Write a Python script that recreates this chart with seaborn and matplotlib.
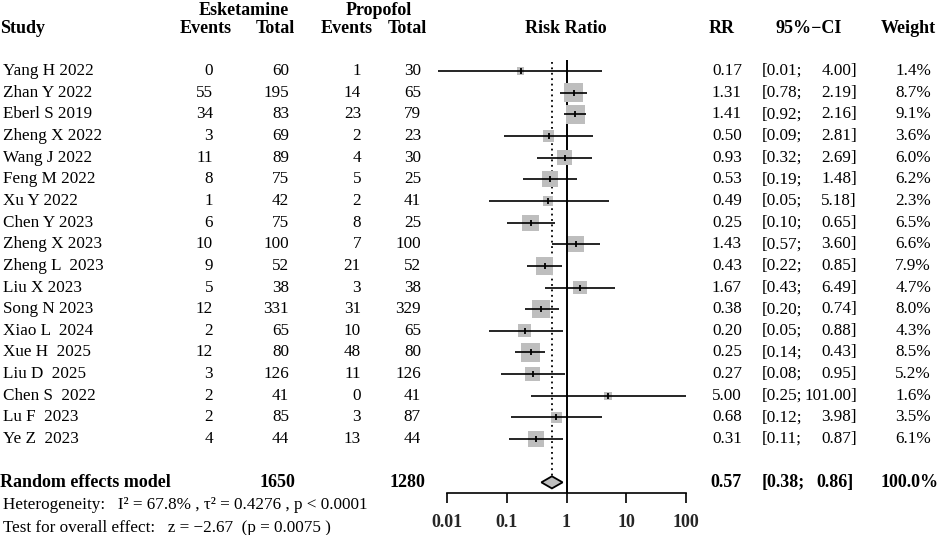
import numpy as np
import matplotlib
matplotlib.use("Agg")
import matplotlib.pyplot as plt
import matplotlib.transforms as mtransforms
import seaborn as sns

# ---- data ----
studies = ["Yang H 2022", "Zhan Y 2022", "Eberl S 2019", "Zheng X 2022", "Wang J 2022",
           "Feng M 2022", "Xu Y 2022", "Chen Y 2023", "Zheng X 2023", "Zheng L  2023",
           "Liu X 2023", "Song N 2023", "Xiao L  2024", "Xue H  2025", "Liu D  2025",
           "Chen S  2022", "Lu F  2023", "Ye Z  2023"]
esk_events = [0, 55, 34, 3, 11, 8, 1, 6, 10, 9, 5, 12, 2, 12, 3, 2, 2, 4]
esk_total = [60, 195, 83, 69, 89, 75, 42, 75, 100, 52, 38, 331, 65, 80, 126, 41, 85, 44]
pro_events = [1, 14, 23, 2, 4, 5, 2, 8, 7, 21, 3, 31, 10, 48, 11, 0, 3, 13]
pro_total = [30, 65, 79, 23, 30, 25, 41, 25, 100, 52, 38, 329, 65, 80, 126, 41, 87, 44]
rr = [0.17, 1.31, 1.41, 0.50, 0.93, 0.53, 0.49, 0.25, 1.43, 0.43, 1.67, 0.38, 0.20,
      0.25, 0.27, 5.00, 0.68, 0.31]
ci_lo = [0.0072, 0.78, 0.92, 0.09, 0.32, 0.19, 0.05, 0.10, 0.57, 0.22, 0.43, 0.20, 0.05,
         0.14, 0.08, 0.25, 0.12, 0.11]
ci_hi = [4.00, 2.19, 2.16, 2.81, 2.69, 1.48, 5.18, 0.65, 3.60, 0.85, 6.49, 0.74, 0.88,
         0.43, 0.95, 101.00, 3.98, 0.87]
weight = [1.4, 8.7, 9.1, 3.6, 6.0, 6.2, 2.3, 6.5, 6.6, 7.9, 4.7, 8.0, 4.3, 8.5, 5.2,
          1.6, 3.5, 6.1]

pooled_rr, pooled_lo, pooled_hi = 0.57, 0.38, 0.86
esk_sum, pro_sum = 1650, 1280
het_text = "Heterogeneity:   I\u00b2 = 67.8% , \u03c4\u00b2 = 0.4276 , p < 0.0001"
test_text = "Test for overall effect:   z = \u22122.67  (p = 0.0075 )"
xticks = [0.01, 0.1, 1, 10, 100]
xtick_labels = ["0.01", "0.1", "1", "10", "100"]

# ---- style ----
sns.set_theme(style="white")
plt.rcParams["font.family"] = ["Liberation Serif", "DejaVu Serif"]
FS = 12.3
FSB = 13
GREY = "#BEBEBE"

W, H = 941, 535
fig = plt.figure(figsize=(W / 100, H / 100), dpi=100)
# forest panel: 0.01 -> 447px, 100 -> 686px
ax = fig.add_axes([435 / W, 0, (698 - 435) / W, 1])
ax.set_xscale("log")
ax.set_xlim(10 ** -2.2, 10 ** 2.2)
ax.set_ylim((H - 71) / 21.65, -71 / 21.65)
ax.patch.set_alpha(0)

rows = np.arange(len(studies))
pooled_row = len(studies) + 1

# squares sized by weight (area proportional to weight)
k = 20.6
sns.scatterplot(x=rr, y=rows, size=weight, sizes=(k * min(weight), k * max(weight)),
                size_norm=(min(weight), max(weight)), marker="s", color=GREY,
                linewidth=0, legend=False, ax=ax, zorder=2)
ax.hlines(rows, ci_lo, np.minimum(ci_hi, 100), color="black", lw=1.2, zorder=3)
ax.scatter(rr, rows, marker="|", s=25, color="black", linewidths=1.3, zorder=4)

# reference lines
dh = 0.28
ax.vlines(1, -0.5, pooled_row + 0.5, color="black", lw=1.4, zorder=1)
ax.vlines(pooled_rr, -0.42, pooled_row - dh, color="black", lw=1.3,
          linestyles=(0, (1, 2)), zorder=1)
ax.fill([pooled_lo, pooled_rr, pooled_hi, pooled_rr],
        [pooled_row, pooled_row - dh, pooled_row, pooled_row + dh],
        facecolor=GREY, edgecolor="black", lw=1.3, zorder=5)

# axis
for s in ["top", "left", "right"]:
    ax.spines[s].set_visible(False)
ax.spines["bottom"].set_position(("data", pooled_row + 0.5))
ax.spines["bottom"].set_bounds(0.01, 100)
ax.spines["bottom"].set_color("black")
ax.spines["bottom"].set_linewidth(1.2)
ax.set_xticks(xticks)
ax.set_xticklabels(xtick_labels, fontsize=FSB, fontweight="bold")
ax.xaxis.set_minor_locator(matplotlib.ticker.NullLocator())
ax.tick_params(axis="x", direction="out", length=7, width=1.2, pad=8, color="black",
               bottom=True)
ax.set_yticks([])
ax.grid(False)

# ---- table text ----
tr = mtransforms.blended_transform_factory(fig.transFigure, ax.transData)


def put(xpx, row, s, ha="left", bold=False):
    ax.text(xpx / W, row, s, transform=tr, ha=ha, va="center",
            fontsize=FSB if bold else FS,
            fontweight="bold" if bold else "normal", color="black", clip_on=False)


hdr = -1.94
top_hdr = -2.8
put(244, top_hdr, "Esketamine", ha="center", bold=True)
put(379, top_hdr, "Propofol", ha="center", bold=True)
put(0, hdr, "Study", bold=True)
put(232, hdr, "Events", ha="right", bold=True)
put(295, hdr, "Total", ha="right", bold=True)
put(373, hdr, "Events", ha="right", bold=True)
put(427, hdr, "Total", ha="right", bold=True)
put(566, hdr, "Risk Ratio", ha="center", bold=True)
put(735, hdr, "RR", ha="right", bold=True)
put(809, hdr, "95%\u2212CI", ha="center", bold=True)
put(936, hdr, "Weight", ha="right", bold=True)

for i in rows:
    put(3, i, studies[i])
    put(213, i, str(esk_events[i]), ha="right")
    put(289, i, str(esk_total[i]), ha="right")
    put(361, i, str(pro_events[i]), ha="right")
    put(421, i, str(pro_total[i]), ha="right")
    put(742, i, f"{rr[i]:.2f}", ha="right")
    put(762, i, f"[{ci_lo[i]:.2f};")
    put(857, i, f"{ci_hi[i]:.2f}]", ha="right")
    put(931, i, f"{weight[i]:.1f}%", ha="right")

put(0, pooled_row, "Random effects model", bold=True)
put(295, pooled_row, str(esk_sum), ha="right", bold=True)
put(425, pooled_row, str(pro_sum), ha="right", bold=True)
put(742, pooled_row, f"{pooled_rr:.2f}", ha="right", bold=True)
put(762, pooled_row, f"[{pooled_lo:.2f};", bold=True)
put(854, pooled_row, f"{pooled_hi:.2f}]", ha="right", bold=True)
put(939, pooled_row, "100.0%", ha="right", bold=True)

put(3, (505 - 71) / 21.65, het_text)
put(3, (528 - 71) / 21.65, test_text)

fig.savefig("out.png", dpi=100)
